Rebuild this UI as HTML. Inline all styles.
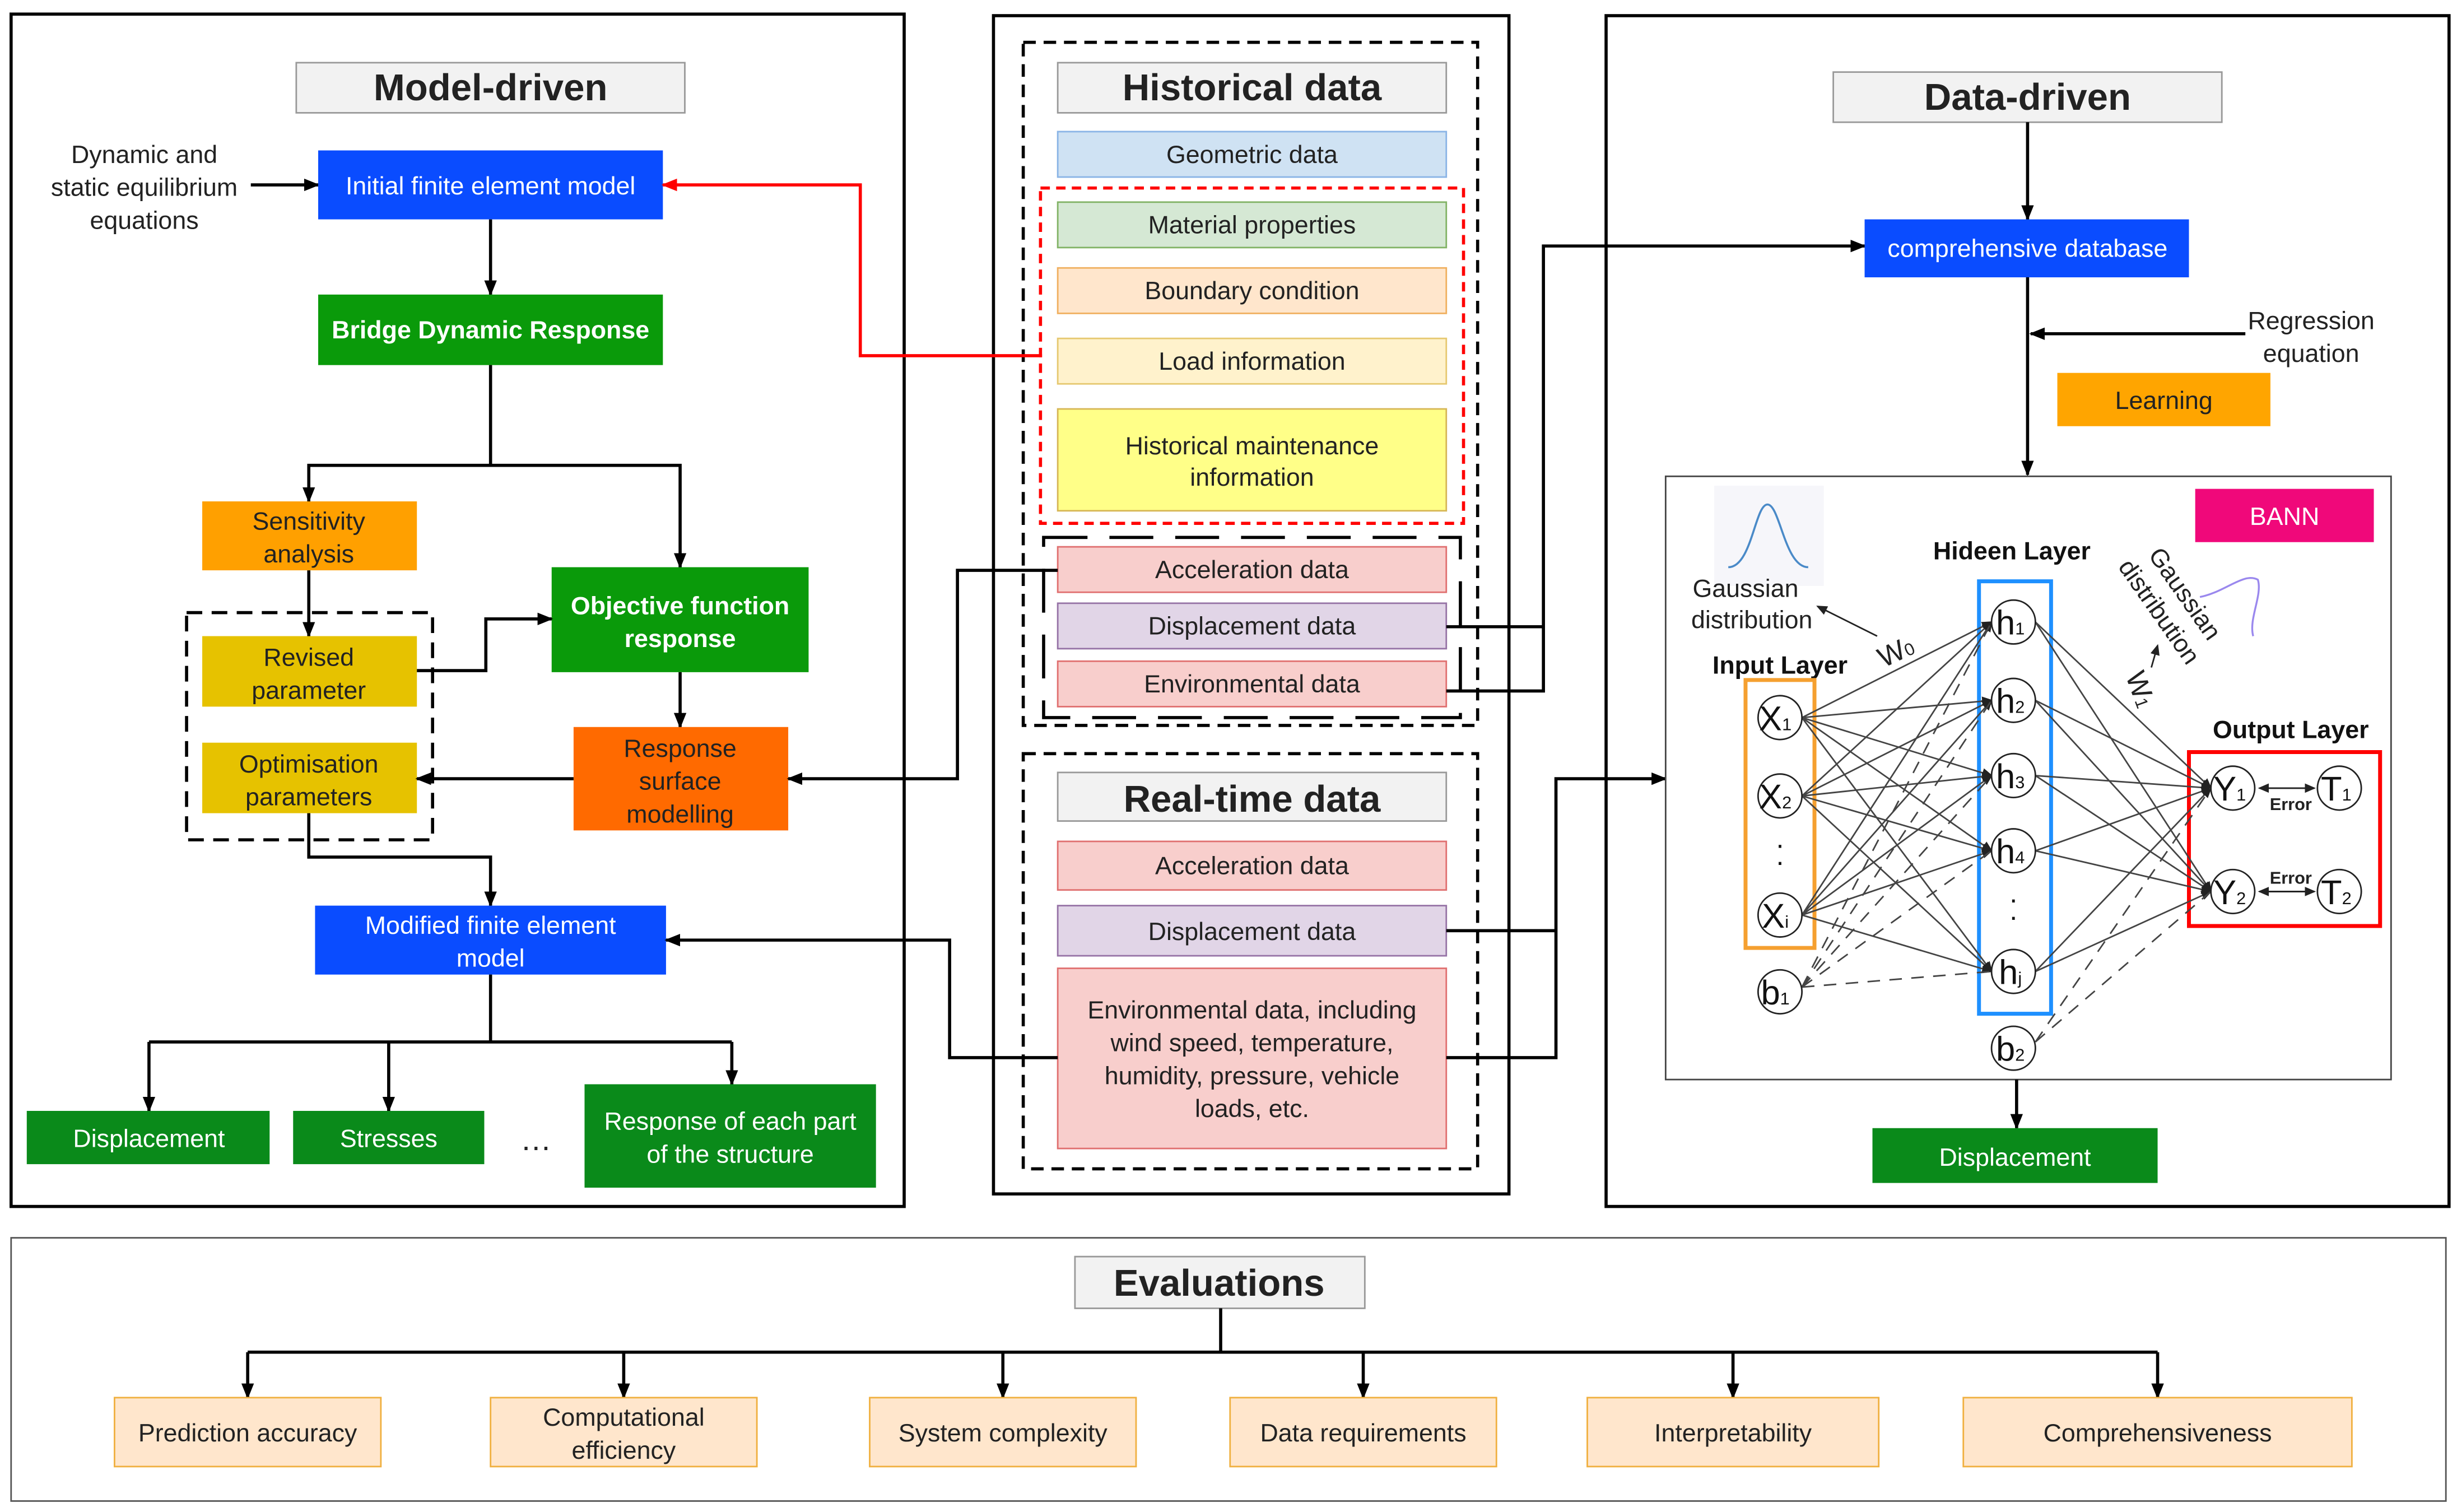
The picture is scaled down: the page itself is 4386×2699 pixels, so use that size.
<!DOCTYPE html>
<html><head><meta charset="utf-8"><style>
html,body{margin:0;padding:0;background:#fff}
svg{display:block}
text{font-family:"Liberation Sans",Arial,sans-serif}
</style></head><body>
<svg width="4386" height="2699" viewBox="0 0 1568 965" xmlns="http://www.w3.org/2000/svg">
<defs>
<marker id="a" markerWidth="10" markerHeight="10" refX="9" refY="5" orient="auto" markerUnits="userSpaceOnUse"><path d="M0,1 L10,5 L0,9 Z" fill="#000"/></marker>
<marker id="ar" markerWidth="10" markerHeight="10" refX="9" refY="5" orient="auto" markerUnits="userSpaceOnUse"><path d="M0,1 L10,5 L0,9 Z" fill="#f00"/></marker>
<marker id="s" markerWidth="7" markerHeight="7" refX="6" refY="3.5" orient="auto" markerUnits="userSpaceOnUse"><path d="M0,0.5 L7,3.5 L0,6.5 Z" fill="#222"/></marker>
</defs>
<rect width="1568" height="965" fill="#fff"/>

<rect x="7" y="9" width="570" height="761" fill="none" stroke="#000" stroke-width="2"/>
<rect x="634" y="10" width="329" height="752" fill="none" stroke="#000" stroke-width="2"/>
<rect x="1025" y="10" width="538" height="760" fill="none" stroke="#000" stroke-width="2"/>
<rect x="7" y="790" width="1554" height="168" fill="none" stroke="#555" stroke-width="1"/>
<rect x="653" y="27" width="290" height="436" fill="none" stroke="#000" stroke-width="2" stroke-dasharray="8,5"/>
<rect x="653" y="481" width="290" height="265" fill="none" stroke="#000" stroke-width="2" stroke-dasharray="8,5"/>

<rect x="189" y="40" width="248" height="32" fill="#f2f2f2" stroke="#999"/>
<text x="313" y="64" font-size="24" font-weight="bold" text-anchor="middle" fill="#222">Model-driven</text>
<g font-size="16" text-anchor="middle" fill="#222">
<text x="92" y="104">Dynamic and</text><text x="92" y="125">static equilibrium</text><text x="92" y="146">equations</text>
</g>
<line x1="160" y1="118" x2="203" y2="118" stroke="#000" stroke-width="2" marker-end="url(#a)"/>
<rect x="203" y="96" width="220" height="44" fill="#0a4cff"/>
<text x="313" y="124" font-size="16" text-anchor="middle" fill="#fff">Initial finite element model</text>
<line x1="313" y1="140" x2="313" y2="188" stroke="#000" stroke-width="2" marker-end="url(#a)"/>
<rect x="203" y="188" width="220" height="45" fill="#0a9a0a"/>
<text x="313" y="216" font-size="16" font-weight="bold" text-anchor="middle" fill="#fff">Bridge Dynamic Response</text>
<polyline points="313,233 313,297 197,297 197,320" fill="none" stroke="#000" stroke-width="2" marker-end="url(#a)"/>
<polyline points="313,297 434,297 434,362" fill="none" stroke="#000" stroke-width="2" marker-end="url(#a)"/>
<rect x="129" y="320" width="137" height="44" fill="#ffa000"/>
<text x="197" y="338" font-size="16" text-anchor="middle" fill="#222">Sensitivity</text>
<text x="197" y="359" font-size="16" text-anchor="middle" fill="#222">analysis</text>
<line x1="197" y1="364" x2="197" y2="406" stroke="#000" stroke-width="2" marker-end="url(#a)"/>
<rect x="119" y="391" width="157" height="145" fill="none" stroke="#000" stroke-width="2" stroke-dasharray="10,6"/>
<rect x="129" y="406" width="137" height="45" fill="#e6c200"/>
<text x="197" y="425" font-size="16" text-anchor="middle" fill="#222">Revised</text>
<text x="197" y="446" font-size="16" text-anchor="middle" fill="#222">parameter</text>
<rect x="129" y="474" width="137" height="45" fill="#e6c200"/>
<text x="197" y="493" font-size="16" text-anchor="middle" fill="#222">Optimisation</text>
<text x="197" y="514" font-size="16" text-anchor="middle" fill="#222">parameters</text>
<rect x="352" y="362" width="164" height="67" fill="#0a9a0a"/>
<text x="434" y="392" font-size="16" font-weight="bold" text-anchor="middle" fill="#fff">Objective function</text>
<text x="434" y="413" font-size="16" font-weight="bold" text-anchor="middle" fill="#fff">response</text>
<polyline points="266,428 310,428 310,395 352,395" fill="none" stroke="#000" stroke-width="2" marker-end="url(#a)"/>
<line x1="434" y1="429" x2="434" y2="464" stroke="#000" stroke-width="2" marker-end="url(#a)"/>
<rect x="366" y="464" width="137" height="66" fill="#ff6a00"/>
<text x="434" y="483" font-size="16" text-anchor="middle" fill="#222">Response</text>
<text x="434" y="504" font-size="16" text-anchor="middle" fill="#222">surface</text>
<text x="434" y="525" font-size="16" text-anchor="middle" fill="#222">modelling</text>
<line x1="366" y1="497" x2="266" y2="497" stroke="#000" stroke-width="2" marker-end="url(#a)"/>
<polyline points="197,519 197,547 313,547 313,578" fill="none" stroke="#000" stroke-width="2" marker-end="url(#a)"/>
<rect x="201" y="578" width="224" height="44" fill="#0a4cff"/>
<text x="313" y="596" font-size="16" text-anchor="middle" fill="#fff">Modified finite element</text>
<text x="313" y="617" font-size="16" text-anchor="middle" fill="#fff">model</text>
<line x1="313" y1="622" x2="313" y2="665" stroke="#000" stroke-width="2"/>
<line x1="95" y1="665" x2="467" y2="665" stroke="#000" stroke-width="2"/>
<line x1="95" y1="665" x2="95" y2="709" stroke="#000" stroke-width="2" marker-end="url(#a)"/>
<line x1="248" y1="665" x2="248" y2="709" stroke="#000" stroke-width="2" marker-end="url(#a)"/>
<line x1="467" y1="665" x2="467" y2="692" stroke="#000" stroke-width="2" marker-end="url(#a)"/>
<rect x="17" y="709" width="155" height="34" fill="#0a8a1a"/>
<text x="95" y="732" font-size="16" text-anchor="middle" fill="#fff">Displacement</text>
<rect x="187" y="709" width="122" height="34" fill="#0a8a1a"/>
<text x="248" y="732" font-size="16" text-anchor="middle" fill="#fff">Stresses</text>
<text x="342" y="734" font-size="20" text-anchor="middle" fill="#222">…</text>
<rect x="373" y="692" width="186" height="66" fill="#0a8a1a"/>
<text x="466" y="721" font-size="16" text-anchor="middle" fill="#fff">Response of each part</text>
<text x="466" y="742" font-size="16" text-anchor="middle" fill="#fff">of the structure</text>
<polyline points="665,227 549,227 549,118 423,118" fill="none" stroke="#f00" stroke-width="2" marker-end="url(#ar)"/>

<rect x="675" y="40" width="248" height="32" fill="#f2f2f2" stroke="#999"/>
<text x="799" y="64" font-size="24" font-weight="bold" text-anchor="middle" fill="#222">Historical data</text>
<g font-size="16" text-anchor="middle" fill="#222">
<rect x="675" y="84" width="248" height="29" fill="#cfe2f3" stroke="#8ab4e6"/><text x="799" y="104">Geometric data</text>
<rect x="664" y="120" width="270" height="214" fill="none" stroke="#f00" stroke-width="2" stroke-dasharray="6,4"/>
<rect x="675" y="129" width="248" height="29" fill="#d5e8d4" stroke="#82b366"/><text x="799" y="149">Material properties</text>
<rect x="675" y="171" width="248" height="29" fill="#ffe6cc" stroke="#f0b060"/><text x="799" y="191">Boundary condition</text>
<rect x="675" y="216" width="248" height="29" fill="#fff2cc" stroke="#e6c870"/><text x="799" y="236">Load information</text>
<rect x="675" y="261" width="248" height="65" fill="#ffff88" stroke="#d6b656"/><text x="799" y="290">Historical maintenance</text><text x="799" y="310">information</text>
<rect x="666" y="343" width="266" height="115" fill="none" stroke="#000" stroke-width="2" stroke-dasharray="28,14"/>
<rect x="675" y="349" width="248" height="29" fill="#f8cecc" stroke="#e07070"/><text x="799" y="369">Acceleration data</text>
<rect x="675" y="385" width="248" height="29" fill="#e1d5e7" stroke="#9673a6"/><text x="799" y="405">Displacement data</text>
<rect x="675" y="422" width="248" height="29" fill="#f8cecc" stroke="#e07070"/><text x="799" y="442">Environmental data</text>
<rect x="675" y="493" width="248" height="31" fill="#f2f2f2" stroke="#999"/>
<text x="799" y="518" font-size="24" font-weight="bold">Real-time data</text>
<rect x="675" y="537" width="248" height="31" fill="#f8cecc" stroke="#e07070"/><text x="799" y="558">Acceleration data</text>
<rect x="675" y="578" width="248" height="32" fill="#e1d5e7" stroke="#9673a6"/><text x="799" y="600">Displacement data</text>
<rect x="675" y="618" width="248" height="115" fill="#f8cecc" stroke="#e07070"/>
<text x="799" y="650">Environmental data, including</text><text x="799" y="671">wind speed, temperature,</text><text x="799" y="692">humidity, pressure, vehicle</text><text x="799" y="713">loads, etc.</text>
</g>
<polyline points="675,364 611,364 611,497 503,497" fill="none" stroke="#000" stroke-width="2" marker-end="url(#a)"/>
<polyline points="923,400 985,400" fill="none" stroke="#000" stroke-width="2"/>
<polyline points="923,441 985,441 985,157 1190,157" fill="none" stroke="#000" stroke-width="2" marker-end="url(#a)"/>
<polyline points="675,675 606,675 606,600 425,600" fill="none" stroke="#000" stroke-width="2" marker-end="url(#a)"/>
<polyline points="923,594 993,594" fill="none" stroke="#000" stroke-width="2"/>
<polyline points="923,675 993,675 993,497 1063,497" fill="none" stroke="#000" stroke-width="2" marker-end="url(#a)"/>

<rect x="1170" y="46" width="248" height="32" fill="#f2f2f2" stroke="#999"/>
<text x="1294" y="70" font-size="24" font-weight="bold" text-anchor="middle" fill="#222">Data-driven</text>
<line x1="1294" y1="78" x2="1294" y2="140" stroke="#000" stroke-width="2" marker-end="url(#a)"/>
<rect x="1190" y="140" width="207" height="37" fill="#0a4cff"/>
<text x="1294" y="164" font-size="16" text-anchor="middle" fill="#fff">comprehensive database</text>
<line x1="1294" y1="177" x2="1294" y2="303" stroke="#000" stroke-width="2" marker-end="url(#a)"/>
<text x="1475" y="210" font-size="16" text-anchor="middle" fill="#222">Regression</text>
<text x="1475" y="231" font-size="16" text-anchor="middle" fill="#222">equation</text>
<line x1="1433" y1="213" x2="1296" y2="213" stroke="#000" stroke-width="2" marker-end="url(#a)"/>
<rect x="1313" y="238" width="136" height="34" fill="#ffa500"/>
<text x="1381" y="261" font-size="16" text-anchor="middle" fill="#222">Learning</text>
<rect x="1063" y="304" width="463" height="385" fill="#fff" stroke="#444" stroke-width="1"/>
<line x1="1287" y1="689" x2="1287" y2="720" stroke="#000" stroke-width="2" marker-end="url(#a)"/>
<rect x="1195" y="720" width="182" height="35" fill="#0a8a1a"/>
<text x="1286" y="744" font-size="16" text-anchor="middle" fill="#fff">Displacement</text>

<rect x="1094" y="310" width="70" height="64" fill="#f6f6fa"/>
<path d="M1103,362 C1118,362 1120,322 1128,322 C1136,322 1139,362 1154,362" fill="none" stroke="#4a8ac8" stroke-width="1.3"/>
<text x="1114" y="381" font-size="16" text-anchor="middle" fill="#222">Gaussian</text>
<text x="1118" y="401" font-size="16" text-anchor="middle" fill="#222">distribution</text>
<line x1="1198" y1="406" x2="1160" y2="387" stroke="#222" stroke-width="1" marker-end="url(#s)"/>
<text x="1210" y="422" font-size="18" text-anchor="middle" fill="#222" transform="rotate(-25 1210 416)">W<tspan font-size="11">0</tspan></text>
<g transform="rotate(55 1390 382)">
<text x="1390" y="382" font-size="16" text-anchor="middle" fill="#222">Gaussian</text>
<text x="1390" y="402" font-size="16" text-anchor="middle" fill="#222">distribution</text>
</g>
<path d="M1404,381 C1420,378 1432,365 1441,370 C1444,380 1435,395 1438,406" fill="none" stroke="#9a88ee" stroke-width="1.2"/>
<line x1="1373" y1="426" x2="1377" y2="412" stroke="#222" stroke-width="1" marker-end="url(#s)"/>
<text x="1366" y="446" font-size="18" text-anchor="middle" fill="#222" transform="rotate(70 1366 440)">W<tspan font-size="11">1</tspan></text>
<rect x="1401" y="312" width="114" height="34" fill="#f0087a"/>
<text x="1458" y="335" font-size="16" text-anchor="middle" fill="#fff">BANN</text>
<text x="1136" y="430" font-size="16" font-weight="bold" text-anchor="middle" fill="#111">Input Layer</text>
<text x="1284" y="357" font-size="16" font-weight="bold" text-anchor="middle" fill="#111">Hideen Layer</text>
<text x="1462" y="471" font-size="16" font-weight="bold" text-anchor="middle" fill="#111">Output Layer</text>
<rect x="1114" y="434" width="44" height="171" fill="none" stroke="#f5a030" stroke-width="2.5"/>
<rect x="1263" y="371" width="46" height="276" fill="none" stroke="#1e90ff" stroke-width="2.5"/>
<rect x="1397" y="480" width="122" height="111" fill="none" stroke="#f00" stroke-width="2.5"/>
<g stroke="#444" stroke-width="1" marker-end="url(#s)">
<line x1="1150" y1="458" x2="1271" y2="397"/><line x1="1150" y1="458" x2="1271" y2="447"/><line x1="1150" y1="458" x2="1271" y2="495"/><line x1="1150" y1="458" x2="1271" y2="543"/><line x1="1150" y1="458" x2="1271" y2="620"/>
<line x1="1150" y1="508" x2="1271" y2="397"/><line x1="1150" y1="508" x2="1271" y2="447"/><line x1="1150" y1="508" x2="1271" y2="495"/><line x1="1150" y1="508" x2="1271" y2="543"/><line x1="1150" y1="508" x2="1271" y2="620"/>
<line x1="1150" y1="584" x2="1271" y2="397"/><line x1="1150" y1="584" x2="1271" y2="447"/><line x1="1150" y1="584" x2="1271" y2="495"/><line x1="1150" y1="584" x2="1271" y2="543"/><line x1="1150" y1="584" x2="1271" y2="620"/>
<line x1="1299" y1="397" x2="1411" y2="503"/><line x1="1299" y1="397" x2="1411" y2="569"/>
<line x1="1299" y1="447" x2="1411" y2="503"/><line x1="1299" y1="447" x2="1411" y2="569"/>
<line x1="1299" y1="495" x2="1411" y2="503"/><line x1="1299" y1="495" x2="1411" y2="569"/>
<line x1="1299" y1="543" x2="1411" y2="503"/><line x1="1299" y1="543" x2="1411" y2="569"/>
<line x1="1299" y1="620" x2="1411" y2="503"/><line x1="1299" y1="620" x2="1411" y2="569"/>
</g>
<g stroke="#444" stroke-width="1" stroke-dasharray="8,6">
<line x1="1150" y1="630" x2="1271" y2="397"/><line x1="1150" y1="630" x2="1271" y2="447"/><line x1="1150" y1="630" x2="1271" y2="495"/><line x1="1150" y1="630" x2="1271" y2="543"/><line x1="1150" y1="630" x2="1271" y2="620"/>
<line x1="1299" y1="665" x2="1411" y2="503"/><line x1="1299" y1="665" x2="1411" y2="569"/>
</g>
<g fill="#fff" stroke="#222" stroke-width="1">
<circle cx="1136" cy="458" r="14"/><circle cx="1136" cy="508" r="14"/><circle cx="1136" cy="584" r="14"/><circle cx="1136" cy="633" r="14"/>
<circle cx="1285" cy="397" r="14"/><circle cx="1285" cy="447" r="14"/><circle cx="1285" cy="495" r="14"/><circle cx="1285" cy="543" r="14"/><circle cx="1285" cy="620" r="14"/><circle cx="1285" cy="669" r="14"/>
<circle cx="1425" cy="503" r="14"/><circle cx="1493" cy="503" r="14"/><circle cx="1425" cy="569" r="14"/><circle cx="1493" cy="569" r="14"/>
</g>
<g font-size="22" text-anchor="middle" fill="#111">
<text x="1133" y="466">X<tspan font-size="11">1</tspan></text><text x="1133" y="516">X<tspan font-size="11">2</tspan></text><text x="1133" y="592">X<tspan font-size="11">i</tspan></text><text x="1133" y="641">b<tspan font-size="11">1</tspan></text>
<text x="1283" y="405">h<tspan font-size="11">1</tspan></text><text x="1283" y="455">h<tspan font-size="11">2</tspan></text><text x="1283" y="503">h<tspan font-size="11">3</tspan></text><text x="1283" y="551">h<tspan font-size="11">4</tspan></text><text x="1283" y="628">h<tspan font-size="11">j</tspan></text><text x="1283" y="677">b<tspan font-size="11">2</tspan></text>
<text x="1423" y="511">Y<tspan font-size="11">1</tspan></text><text x="1491" y="511">T<tspan font-size="11">1</tspan></text><text x="1423" y="577">Y<tspan font-size="11">2</tspan></text><text x="1491" y="577">T<tspan font-size="11">2</tspan></text>
<text x="1136" y="545" font-size="18">·</text><text x="1136" y="556" font-size="18">·</text>
<text x="1285" y="580" font-size="18">·</text><text x="1285" y="591" font-size="18">·</text>
</g>
<line x1="1442" y1="503" x2="1477" y2="503" stroke="#222" marker-end="url(#s)"/>
<line x1="1477" y1="503" x2="1442" y2="503" stroke="#222" marker-end="url(#s)"/>
<line x1="1442" y1="569" x2="1477" y2="569" stroke="#222" marker-end="url(#s)"/>
<line x1="1477" y1="569" x2="1442" y2="569" stroke="#222" marker-end="url(#s)"/>
<text x="1462" y="517" font-size="11" font-weight="bold" text-anchor="middle" fill="#222">Error</text>
<text x="1462" y="564" font-size="11" font-weight="bold" text-anchor="middle" fill="#222">Error</text>

<rect x="686" y="802" width="185" height="33" fill="#f2f2f2" stroke="#999"/>
<text x="778" y="827" font-size="24" font-weight="bold" text-anchor="middle" fill="#222">Evaluations</text>
<line x1="779" y1="835" x2="779" y2="863" stroke="#000" stroke-width="2"/>
<line x1="158" y1="863" x2="1377" y2="863" stroke="#000" stroke-width="2"/>
<g stroke="#000" stroke-width="2" marker-end="url(#a)">
<line x1="158" y1="863" x2="158" y2="892"/><line x1="398" y1="863" x2="398" y2="892"/><line x1="640" y1="863" x2="640" y2="892"/><line x1="870" y1="863" x2="870" y2="892"/><line x1="1106" y1="863" x2="1106" y2="892"/><line x1="1377" y1="863" x2="1377" y2="892"/>
</g>
<g fill="#ffe6cc" stroke="#f0b040">
<rect x="73" y="892" width="170" height="44"/><rect x="313" y="892" width="170" height="44"/><rect x="555" y="892" width="170" height="44"/><rect x="785" y="892" width="170" height="44"/><rect x="1013" y="892" width="186" height="44"/><rect x="1253" y="892" width="248" height="44"/>
</g>
<g font-size="16" text-anchor="middle" fill="#222">
<text x="158" y="920">Prediction accuracy</text>
<text x="398" y="910">Computational</text><text x="398" y="931">efficiency</text>
<text x="640" y="920">System complexity</text>
<text x="870" y="920">Data requirements</text>
<text x="1106" y="920">Interpretability</text>
<text x="1377" y="920">Comprehensiveness</text>
</g>
</svg>
</body></html>
